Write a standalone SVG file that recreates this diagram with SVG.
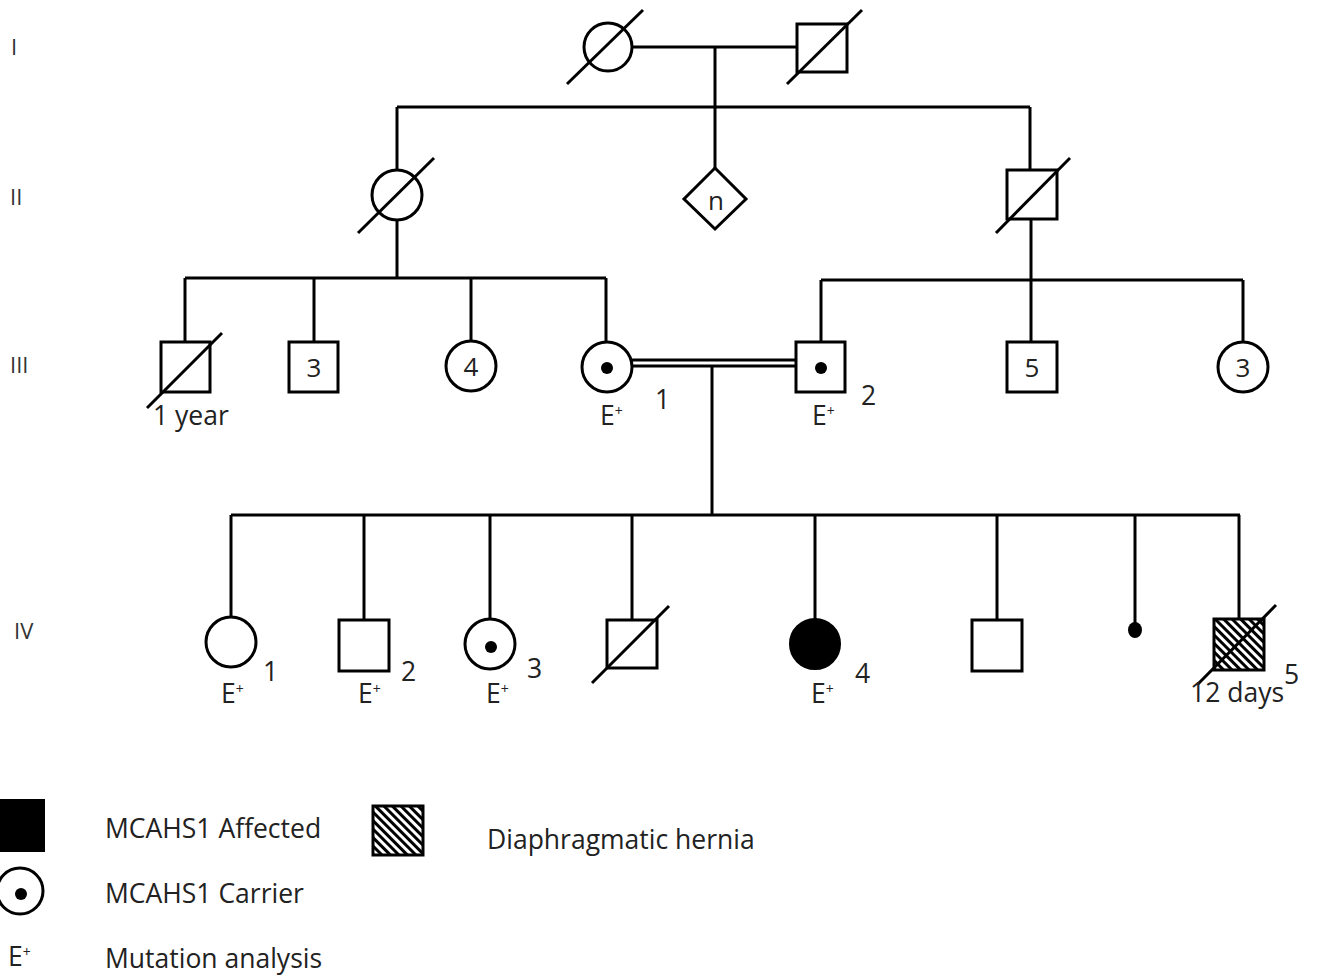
<svg xmlns="http://www.w3.org/2000/svg" width="1318" height="979" viewBox="0 0 1318 979">
  <style>
    .ln { stroke: #000; stroke-width: 3; fill: none; }
    .sym { stroke: #000; stroke-width: 3; fill: #fff; }
    .txt { font-family: "Open Sans", "Liberation Sans", sans-serif; font-size: 26.5px; fill: #222; }
    .num { font-family: "Open Sans", "Liberation Sans", sans-serif; font-size: 26px; fill: #222; text-anchor: middle; }
    .gen { font-family: "Open Sans", "Liberation Sans", sans-serif; font-size: 22px; fill: #333; }
    .sup { font-size: 14px; }
  </style>
  <defs>
    <pattern id="hatch" patternUnits="userSpaceOnUse" width="6" height="6" patternTransform="rotate(-45)">
      <rect x="0" y="0" width="6" height="6" fill="#fff"/>
      <rect x="0" y="0" width="3" height="6" fill="#000"/>
    </pattern>
  </defs>
  <rect width="1318" height="979" fill="#fff"/>

  <!-- generation labels -->
  <g id="generations">
    <text class="gen" x="11" y="55">I</text>
    <text class="gen" x="10" y="205">II</text>
    <text class="gen" x="10" y="373">III</text>
    <text class="gen" x="14" y="639">IV</text>
  </g>

  <!-- connectors -->
  <g id="connectors" class="ln">
    <line x1="633" y1="47" x2="797" y2="47"/>
    <line x1="715" y1="47" x2="715" y2="107"/>
    <line x1="397" y1="107" x2="1030" y2="107"/>
    <line x1="397" y1="107" x2="397" y2="170"/>
    <line x1="715" y1="107" x2="715" y2="168"/>
    <line x1="1030" y1="107" x2="1030" y2="170"/>

    <line x1="397" y1="220" x2="397" y2="278"/>
    <line x1="185" y1="278" x2="606" y2="278"/>
    <line x1="185" y1="278" x2="185" y2="342"/>
    <line x1="314" y1="278" x2="314" y2="342"/>
    <line x1="471" y1="278" x2="471" y2="341"/>
    <line x1="606" y1="278" x2="606" y2="342"/>

    <line x1="1031" y1="219" x2="1031" y2="342"/>
    <line x1="821" y1="280" x2="1243" y2="280"/>
    <line x1="821" y1="280" x2="821" y2="342"/>
    <line x1="1243" y1="280" x2="1243" y2="343"/>

    <line x1="632" y1="360" x2="796" y2="360"/>
    <line x1="632" y1="366" x2="796" y2="366"/>
    <line x1="712" y1="366" x2="712" y2="515"/>

    <line x1="231" y1="515" x2="1240" y2="515"/>
    <line x1="231" y1="515" x2="231" y2="617"/>
    <line x1="364" y1="515" x2="364" y2="620"/>
    <line x1="490" y1="515" x2="490" y2="620"/>
    <line x1="632" y1="515" x2="632" y2="620"/>
    <line x1="815" y1="515" x2="815" y2="619"/>
    <line x1="997" y1="515" x2="997" y2="620"/>
    <line x1="1135" y1="515" x2="1135" y2="624"/>
    <line x1="1239" y1="515" x2="1239" y2="619"/>
  </g>

  <!-- generation I -->
  <g id="I-1">
    <circle class="sym" cx="608" cy="47" r="24"/>
    <line class="ln" x1="567" y1="84" x2="643" y2="10"/>
  </g>
  <g id="I-2">
    <rect class="sym" x="797" y="24" width="50" height="48"/>
    <line class="ln" x1="787" y1="84" x2="862" y2="10"/>
  </g>

  <!-- generation II -->
  <g id="II-1">
    <circle class="sym" cx="397" cy="195" r="25"/>
    <line class="ln" x1="358" y1="233" x2="434" y2="158"/>
  </g>
  <g id="II-2">
    <polygon class="sym" points="715,168 746,199 715,229 684,199"/>
    <text class="num" x="716" y="210">n</text>
  </g>
  <g id="II-3">
    <rect class="sym" x="1007" y="170" width="50" height="49"/>
    <line class="ln" x1="996" y1="233" x2="1070" y2="158"/>
  </g>

  <!-- generation III -->
  <g id="III-a">
    <rect class="sym" x="161" y="342" width="49" height="50"/>
    <line class="ln" x1="147" y1="408" x2="222" y2="333"/>
    <text class="txt" x="153" y="425">1 year</text>
  </g>
  <g id="III-b">
    <rect class="sym" x="289" y="342" width="49" height="50"/>
    <text class="num" x="314" y="377">3</text>
  </g>
  <g id="III-c">
    <circle class="sym" cx="471" cy="366" r="25"/>
    <text class="num" x="471" y="376">4</text>
  </g>
  <g id="III-1">
    <circle class="sym" cx="607" cy="367" r="25"/>
    <circle cx="607" cy="368" r="6" fill="#000"/>
    <text class="txt" x="655" y="409" font-size="25">1</text>
    <text class="txt" x="600" y="425" font-size="23">E<tspan class="sup" dy="-9">+</tspan></text>
  </g>
  <g id="III-2">
    <rect class="sym" x="796" y="342" width="49" height="50"/>
    <circle cx="821" cy="368" r="6" fill="#000"/>
    <text class="txt" x="861" y="405" font-size="25">2</text>
    <text class="txt" x="812" y="425" font-size="23">E<tspan class="sup" dy="-9">+</tspan></text>
  </g>
  <g id="III-d">
    <rect class="sym" x="1007" y="342" width="50" height="50"/>
    <text class="num" x="1032" y="377">5</text>
  </g>
  <g id="III-e">
    <circle class="sym" cx="1243" cy="367" r="25"/>
    <text class="num" x="1243" y="377">3</text>
  </g>

  <!-- generation IV -->
  <g id="IV-1">
    <circle class="sym" cx="231" cy="642" r="25"/>
    <text class="txt" x="263" y="681" font-size="25">1</text>
    <text class="txt" x="221" y="703" font-size="23">E<tspan class="sup" dy="-9">+</tspan></text>
  </g>
  <g id="IV-2">
    <rect class="sym" x="339" y="620" width="50" height="51"/>
    <text class="txt" x="401" y="681" font-size="25">2</text>
    <text class="txt" x="358" y="703" font-size="23">E<tspan class="sup" dy="-9">+</tspan></text>
  </g>
  <g id="IV-3">
    <circle class="sym" cx="490" cy="644" r="25"/>
    <circle cx="491" cy="647" r="6" fill="#000"/>
    <text class="txt" x="527" y="678" font-size="25">3</text>
    <text class="txt" x="486" y="703" font-size="23">E<tspan class="sup" dy="-9">+</tspan></text>
  </g>
  <g id="IV-a">
    <rect class="sym" x="607" y="620" width="50" height="48"/>
    <line class="ln" x1="592" y1="683" x2="669" y2="606"/>
  </g>
  <g id="IV-4">
    <circle cx="815" cy="644" r="25" fill="#000" stroke="#000" stroke-width="2"/>
    <text class="txt" x="855" y="683" font-size="25">4</text>
    <text class="txt" x="811" y="703" font-size="23">E<tspan class="sup" dy="-9">+</tspan></text>
  </g>
  <g id="IV-b">
    <rect class="sym" x="972" y="620" width="50" height="51"/>
  </g>
  <g id="IV-c">
    <ellipse cx="1135" cy="630" rx="7" ry="8" fill="#000"/>
  </g>
  <g id="IV-5">
    <rect x="1214" y="619" width="50" height="51" fill="url(#hatch)" stroke="#000" stroke-width="3"/>
    <line class="ln" x1="1198" y1="684" x2="1276" y2="605"/>
    <text class="txt" x="1190" y="702">12 days</text>
    <text class="txt" x="1284" y="684" font-size="23">5</text>
  </g>

  <!-- legend -->
  <g id="legend">
    <rect x="0" y="799" width="45" height="53" fill="#000"/>
    <text class="txt" x="105" y="838">MCAHS1 Affected</text>
    <rect x="373" y="806" width="50" height="49" fill="url(#hatch)" stroke="#000" stroke-width="3"/>
    <text class="txt" x="487" y="849">Diaphragmatic hernia</text>
    <circle cx="20" cy="891" r="23" fill="#fff" stroke="#000" stroke-width="3"/>
    <circle cx="21" cy="894" r="6" fill="#000"/>
    <text class="txt" x="105" y="903">MCAHS1 Carrier</text>
    <text class="txt" x="8" y="966" font-size="23">E<tspan class="sup" dy="-9">+</tspan></text>
    <text class="txt" x="105" y="968">Mutation analysis</text>
  </g>
</svg>
